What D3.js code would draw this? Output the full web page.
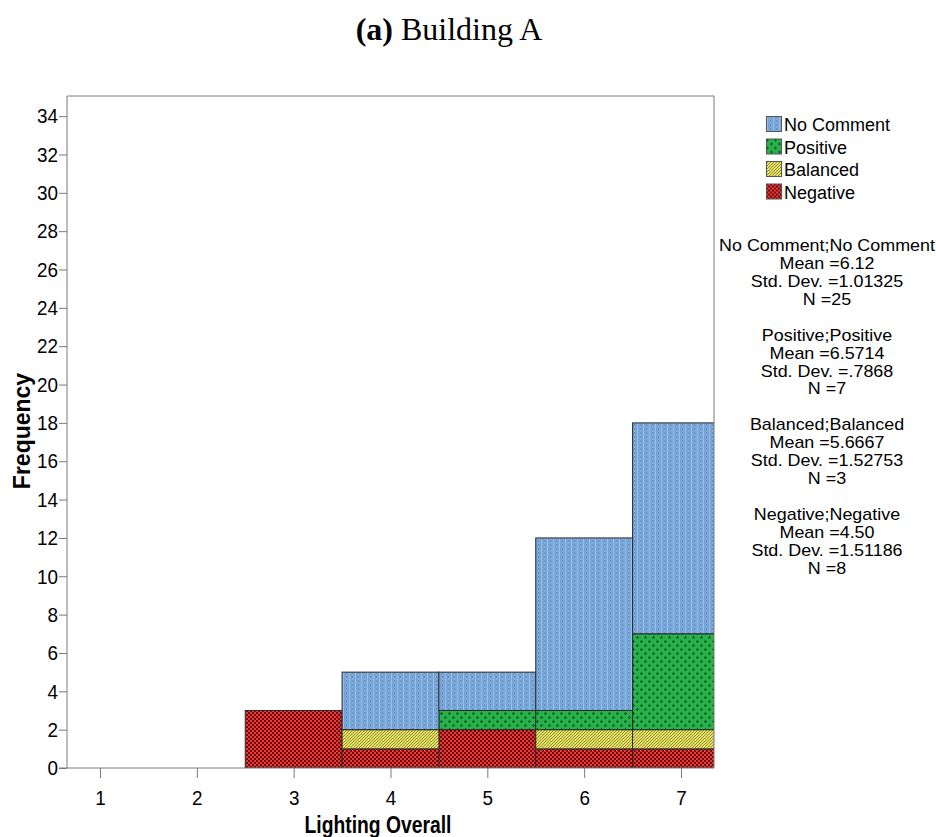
<!DOCTYPE html>
<html>
<head>
<meta charset="utf-8">
<script src="https://cdn.jsdelivr.net/npm/d3@7/dist/d3.min.js"></script>
<style>
  html, body { margin: 0; padding: 0; background: #fff; }
  svg { display: block; }
</style>
</head>
<body>
<svg id="chart" width="936" height="837"></svg>
<script>
// Rating bins on the x axis
const bins = [1, 2, 3, 4, 5, 6, 7];
// Stacking order from bottom to top
const groups = ["Negative", "Balanced", "Positive", "No Comment"];
// Counts per bin for each comment group
const negative  = [0, 0, 3, 1, 2, 1, 1];
const balanced  = [0, 0, 0, 1, 0, 1, 1];
const positive  = [0, 0, 0, 0, 1, 1, 5];
const noComment = [0, 0, 0, 3, 2, 9, 11];
const yTicks = d3.range(0, 35, 2);
// Legend order (top to bottom)
const legendOrder = ["No Comment", "Positive", "Balanced", "Negative"];
// Summary statistics per group
const statsBlocks = [
  ["No Comment;No Comment", "Mean =6.12", "Std. Dev. =1.01325", "N =25"],
  ["Positive;Positive", "Mean =6.5714", "Std. Dev. =.7868", "N =7"],
  ["Balanced;Balanced", "Mean =5.6667", "Std. Dev. =1.52753", "N =3"],
  ["Negative;Negative", "Mean =4.50", "Std. Dev. =1.51186", "N =8"]
];

const seriesData = {
  "Negative": negative,
  "Balanced": balanced,
  "Positive": positive,
  "No Comment": noComment
};

const svg = d3.select("#chart");
const sans = "'Liberation Sans', Arial, sans-serif";

// Fill patterns
const defs = svg.append("defs");

// No Comment: blue with fine vertical dotted lines
const pBlue = defs.append("pattern").attr("id", "pat-nocomment")
  .attr("patternUnits", "userSpaceOnUse").attr("width", 6).attr("height", 4);
pBlue.append("rect").attr("width", 6).attr("height", 4).attr("fill", "#77A5D7");
pBlue.append("rect").attr("x", 1).attr("y", 0).attr("width", 1).attr("height", 4).attr("fill", "#96BDE8");
pBlue.append("rect").attr("x", 4).attr("y", 0).attr("width", 1).attr("height", 2).attr("fill", "#608FC8");
pBlue.append("rect").attr("x", 4).attr("y", 2).attr("width", 1).attr("height", 2).attr("fill", "#88B2E0");

// Positive: green with darker small crosses
const pGreen = defs.append("pattern").attr("id", "pat-positive")
  .attr("patternUnits", "userSpaceOnUse").attr("width", 8).attr("height", 8);
pGreen.append("rect").attr("width", 8).attr("height", 8).attr("fill", "#27B24B");
[[0, 0], [4, 4]].forEach(([cx, cy]) => {
  pGreen.append("rect").attr("x", cx + 1).attr("y", cy).attr("width", 1).attr("height", 3).attr("fill", "#0C5E22");
  pGreen.append("rect").attr("x", cx).attr("y", cy + 1).attr("width", 3).attr("height", 1).attr("fill", "#0C5E22");
});

// Balanced: yellow with diagonal hatching
const pYellow = defs.append("pattern").attr("id", "pat-balanced")
  .attr("patternUnits", "userSpaceOnUse").attr("width", 3).attr("height", 3);
pYellow.append("rect").attr("width", 3).attr("height", 3).attr("fill", "#E4DE6A");
pYellow.append("path").attr("d", "M0,3 L3,0 M-1,1 L1,-1 M2,4 L4,2")
  .attr("stroke", "#8F8A24").attr("stroke-width", 0.9);

// Negative: red with dark checkerboard
const pRed = defs.append("pattern").attr("id", "pat-negative")
  .attr("patternUnits", "userSpaceOnUse").attr("width", 4).attr("height", 4);
pRed.append("rect").attr("width", 4).attr("height", 4).attr("fill", "#FF3030");
pRed.append("rect").attr("x", 0).attr("y", 0).attr("width", 2).attr("height", 2).attr("fill", "#5A1414");
pRed.append("rect").attr("x", 2).attr("y", 2).attr("width", 2).attr("height", 2).attr("fill", "#5A1414");

const fills = {
  "No Comment": "url(#pat-nocomment)",
  "Positive": "url(#pat-positive)",
  "Balanced": "url(#pat-balanced)",
  "Negative": "url(#pat-negative)"
};

// Plot area
const plot = { left: 67, right: 714, top: 96, bottom: 768 };

const x = d3.scaleLinear().domain([0.659, 7.341]).range([plot.left, plot.right]);
const y = d3.scaleLinear().domain([0, 35.05]).range([plot.bottom, plot.top]);

// Title
const title = svg.append("text")
  .attr("x", 449).attr("y", 40)
  .attr("text-anchor", "middle")
  .attr("font-family", "'Liberation Serif', 'Times New Roman', serif")
  .attr("font-size", 32)
  .attr("fill", "#000");
title.append("tspan").attr("font-weight", "bold").text("(a)");
title.append("tspan").text(" Building A");

// Stack data
const rows = bins.map((b, i) => {
  const r = { bin: b };
  groups.forEach(g => { r[g] = seriesData[g][i]; });
  return r;
});
const stacked = d3.stack().keys(groups)(rows);

svg.append("clipPath").attr("id", "plot-clip")
  .append("rect")
  .attr("x", plot.left).attr("y", plot.top)
  .attr("width", plot.right - plot.left).attr("height", plot.bottom - plot.top);

const barsG = svg.append("g").attr("clip-path", "url(#plot-clip)");
stacked.forEach(layer => {
  barsG.append("g")
    .selectAll("rect")
    .data(layer.filter(d => d[1] - d[0] > 0))
    .join("rect")
    .attr("x", d => x(d.data.bin - 0.5))
    .attr("width", d => x(d.data.bin + 0.5) - x(d.data.bin - 0.5))
    .attr("y", d => y(d[1]))
    .attr("height", d => y(d[0]) - y(d[1]))
    .attr("fill", fills[layer.key])
    .attr("stroke", "#2a2a2a")
    .attr("stroke-width", 1);
});

// Frame (top and right)
svg.append("path")
  .attr("d", `M${plot.left},${plot.top} H${plot.right} V${plot.bottom}`)
  .attr("fill", "none").attr("stroke", "#7a7a7a").attr("stroke-width", 1);

// Y axis
const yAxis = d3.axisLeft(y).tickValues(yTicks).tickSize(8).tickPadding(2);
const gy = svg.append("g").attr("transform", `translate(${plot.left},0)`).call(yAxis);
gy.select(".domain").attr("d", `M0,${plot.top}V${plot.bottom}`).attr("stroke", "#7a7a7a");
gy.selectAll(".tick line").attr("stroke", "#7a7a7a");
gy.selectAll(".tick text")
  .attr("font-family", sans).attr("font-size", 21).attr("fill", "#000")
  .attr("transform", "scale(0.9,1)");

// X axis
const xAxis = d3.axisBottom(x).tickValues(bins).tickSize(10).tickPadding(12).tickFormat(d3.format("d"));
const gx = svg.append("g").attr("transform", `translate(0,${plot.bottom})`).call(xAxis);
gx.select(".domain").attr("d", `M${plot.left - 8},0H${plot.right}`).attr("stroke", "#7a7a7a");
gx.selectAll(".tick line").attr("stroke", "#7a7a7a");
gx.selectAll(".tick text")
  .attr("font-family", sans).attr("font-size", 21).attr("fill", "#000")
  .attr("transform", "scale(0.9,1)");

// Axis titles
svg.append("text")
  .attr("transform", "translate(378,833) scale(0.84,1)")
  .attr("text-anchor", "middle")
  .attr("font-family", sans).attr("font-weight", "bold").attr("font-size", 23)
  .text("Lighting Overall");

svg.append("text")
  .attr("transform", "translate(30,431) rotate(-90)")
  .attr("text-anchor", "middle")
  .attr("font-family", sans).attr("font-weight", "bold").attr("font-size", 23)
  .text("Frequency");

// Legend
const legend = svg.append("g").attr("transform", "translate(766,116)");
legendOrder.forEach((g, i) => {
  const row = legend.append("g").attr("transform", `translate(0,${i * 22.5})`);
  row.append("rect").attr("x", 0.5).attr("y", 0.5).attr("width", 15).attr("height", 15)
    .attr("fill", fills[g]).attr("stroke", "#555").attr("stroke-width", 1);
  row.append("text").attr("x", 18).attr("y", 15)
    .attr("font-family", sans).attr("font-size", 18).attr("fill", "#000")
    .text(g);
});

// Statistics text, slightly widened to keep lines tight without overlap
const stats = svg.append("g").attr("font-family", sans).attr("font-size", 16).attr("fill", "#000")
  .attr("text-anchor", "middle");
statsBlocks.forEach((block, bi) => {
  block.forEach((line, li) => {
    stats.append("text")
      .attr("transform", `translate(827,${251 + bi * 89.7 + li * 17.9}) scale(1.12,1)`)
      .text(line);
  });
});
</script>
</body>
</html>
